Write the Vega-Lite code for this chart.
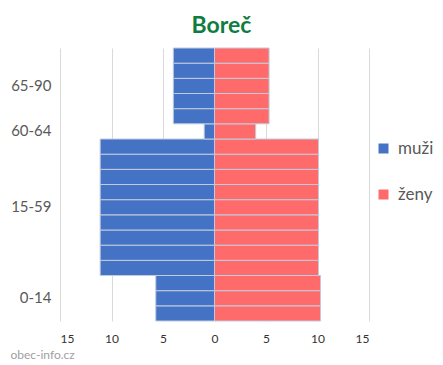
{
  "$schema": "https://vega.github.io/schema/vega-lite/v6.json",
  "autosize": "none",
  "width": 309,
  "height": 273,
  "padding": {"left": 60, "top": 48, "right": 74, "bottom": 44},
  "background": "white",
  "title": {
    "text": "Boreč",
    "color": "#107c41",
    "font": "Lato",
    "fontSize": 23,
    "fontWeight": "bold",
    "anchor": "middle",
    "dx": 7,
    "offset": 10
  },
  "data": {
    "values": [
      {"row": 1, "age": "0-14", "sex": "muži", "value": -5.7},
      {"row": 1, "age": "0-14", "sex": "ženy", "value": 10.3},
      {"row": 2, "age": "0-14", "sex": "muži", "value": -5.7},
      {"row": 2, "age": "0-14", "sex": "ženy", "value": 10.3},
      {"row": 3, "age": "0-14", "sex": "muži", "value": -5.7},
      {"row": 3, "age": "0-14", "sex": "ženy", "value": 10.3},
      {"row": 4, "age": "15-59", "sex": "muži", "value": -11.1},
      {"row": 4, "age": "15-59", "sex": "ženy", "value": 10.1},
      {"row": 5, "age": "15-59", "sex": "muži", "value": -11.1},
      {"row": 5, "age": "15-59", "sex": "ženy", "value": 10.1},
      {"row": 6, "age": "15-59", "sex": "muži", "value": -11.1},
      {"row": 6, "age": "15-59", "sex": "ženy", "value": 10.1},
      {"row": 7, "age": "15-59", "sex": "muži", "value": -11.1},
      {"row": 7, "age": "15-59", "sex": "ženy", "value": 10.1},
      {"row": 8, "age": "15-59", "sex": "muži", "value": -11.1},
      {"row": 8, "age": "15-59", "sex": "ženy", "value": 10.1},
      {"row": 9, "age": "15-59", "sex": "muži", "value": -11.1},
      {"row": 9, "age": "15-59", "sex": "ženy", "value": 10.1},
      {"row": 10, "age": "15-59", "sex": "muži", "value": -11.1},
      {"row": 10, "age": "15-59", "sex": "ženy", "value": 10.1},
      {"row": 11, "age": "15-59", "sex": "muži", "value": -11.1},
      {"row": 11, "age": "15-59", "sex": "ženy", "value": 10.1},
      {"row": 12, "age": "15-59", "sex": "muži", "value": -11.1},
      {"row": 12, "age": "15-59", "sex": "ženy", "value": 10.1},
      {"row": 13, "age": "60-64", "sex": "muži", "value": -1.0},
      {"row": 13, "age": "60-64", "sex": "ženy", "value": 4.0},
      {"row": 14, "age": "65-90", "sex": "muži", "value": -4.0},
      {"row": 14, "age": "65-90", "sex": "ženy", "value": 5.3},
      {"row": 15, "age": "65-90", "sex": "muži", "value": -4.0},
      {"row": 15, "age": "65-90", "sex": "ženy", "value": 5.3},
      {"row": 16, "age": "65-90", "sex": "muži", "value": -4.0},
      {"row": 16, "age": "65-90", "sex": "ženy", "value": 5.3},
      {"row": 17, "age": "65-90", "sex": "muži", "value": -4.0},
      {"row": 17, "age": "65-90", "sex": "ženy", "value": 5.3},
      {"row": 18, "age": "65-90", "sex": "muži", "value": -4.0},
      {"row": 18, "age": "65-90", "sex": "ženy", "value": 5.3}
    ]
  },
  "mark": {"type": "bar", "stroke": "#c2cbdd", "strokeWidth": 1},
  "encoding": {
    "y": {
      "field": "row",
      "type": "ordinal",
      "sort": "descending",
      "scale": {"paddingInner": 0, "paddingOuter": 0},
      "axis": {
        "title": null,
        "domain": false,
        "ticks": false,
        "labelPadding": 9,
        "labelFont": "Lato",
        "labelFontSize": 15,
        "labelColor": "#595959",
        "labelExpr": "datum.value == 16 ? '65-90' : datum.value == 13 ? '60-64' : datum.value == 8 ? '15-59' : datum.value == 2 ? '0-14' : ''"
      }
    },
    "x": {
      "field": "value",
      "type": "quantitative",
      "stack": null,
      "scale": {"domain": [-15, 15], "nice": false},
      "axis": {
        "values": [-15, -10, -5, 0, 5, 10, 15],
        "labelExpr": "abs(datum.value)",
        "domain": false,
        "ticks": false,
        "grid": true,
        "gridColor": "#d9d9d9",
        "labelPadding": 12,
        "labelFont": "Lato",
        "labelFontSize": 12,
        "labelColor": "#333333",
        "title": "obec-info.cz",
        "titleFont": "Lato",
        "titleFontSize": 12,
        "titleFontWeight": "normal",
        "titleColor": "#a0a0a0",
        "titleAnchor": "start",
        "titleAlign": "left",
        "titleBaseline": "middle",
        "titleX": -50,
        "titleY": 33
      }
    },
    "color": {
      "field": "sex",
      "type": "nominal",
      "scale": {"domain": ["muži", "ženy"], "range": ["#4472c4", "#ff6b6b"]},
      "legend": {
        "title": null,
        "orient": "none",
        "legendX": 315,
        "legendY": 92,
        "symbolType": "square",
        "symbolSize": 100,
        "symbolStrokeWidth": 0,
        "labelFont": "Lato",
        "labelFontSize": 17,
        "labelColor": "#595959",
        "labelOffset": 6,
        "rowPadding": 28,
        "padding": 0
      }
    }
  },
  "config": {"view": {"stroke": null}}
}
